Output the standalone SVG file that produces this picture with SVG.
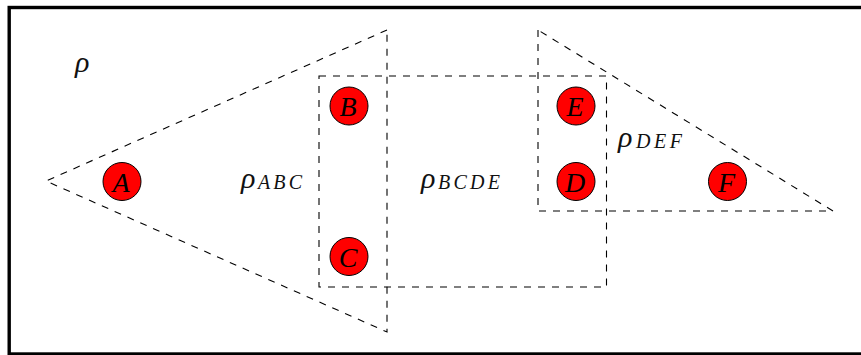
<svg xmlns="http://www.w3.org/2000/svg" width="861" height="355" viewBox="0 0 861 355">
  <style>
    .frame { fill: none; stroke: #000; stroke-width: 3.4; }
    .region { fill: none; stroke: #000; stroke-width: 1.1; stroke-dasharray: 7 7; stroke-linejoin: miter; }
    .node circle { fill: #ff0000; stroke: #000; stroke-width: 1; }
    .node text { font-family: "Liberation Serif", serif; font-style: italic; font-size: 28px; fill: #000; text-anchor: middle; }
    .lbl { font-family: "Liberation Serif", serif; font-style: italic; fill: #111; }
    .rho { font-size: 30px; }
    .sub { font-size: 20px; }
  </style>

  <rect width="861" height="355" fill="#fff"/>
  <rect class="frame" x="9.2" y="7.5" width="900" height="346.5"/>

  <!-- dashed regions -->
  <g id="connectors">
    <path class="region" d="M387,30 L46,181 L387,332 Z"/>
    <rect class="region" x="319" y="76" width="287.5" height="211"/>
    <path class="region" d="M538,30 L538,211 L833,211 Z"/>
  </g>

  <!-- region labels -->
  <g id="labels">
    <text class="lbl rho" x="75" y="72">ρ</text>
    <text class="lbl rho" x="241" y="188">ρ</text>
    <text class="lbl sub" x="258" y="189" textLength="44" lengthAdjust="spacing">ABC</text>
    <text class="lbl rho" x="421" y="188">ρ</text>
    <text class="lbl sub" x="438" y="189" textLength="62" lengthAdjust="spacing">BCDE</text>
    <text class="lbl rho" x="618" y="147">ρ</text>
    <text class="lbl sub" x="636" y="148" textLength="46" lengthAdjust="spacing">DEF</text>
  </g>

  <g id="node-A" class="node"><circle cx="122" cy="181.5" r="19"/><text x="121" y="191.5">A</text></g>
  <g id="node-B" class="node"><circle cx="349" cy="106" r="19"/><text x="348" y="116">B</text></g>
  <g id="node-C" class="node"><circle cx="349" cy="256.5" r="19"/><text x="348" y="266.5">C</text></g>
  <g id="node-E" class="node"><circle cx="576" cy="106" r="19"/><text x="575" y="116">E</text></g>
  <g id="node-D" class="node"><circle cx="576" cy="181.5" r="19"/><text x="575" y="191.5">D</text></g>
  <g id="node-F" class="node"><circle cx="727.5" cy="181.5" r="19"/><text x="726.5" y="191.5">F</text></g>
</svg>
